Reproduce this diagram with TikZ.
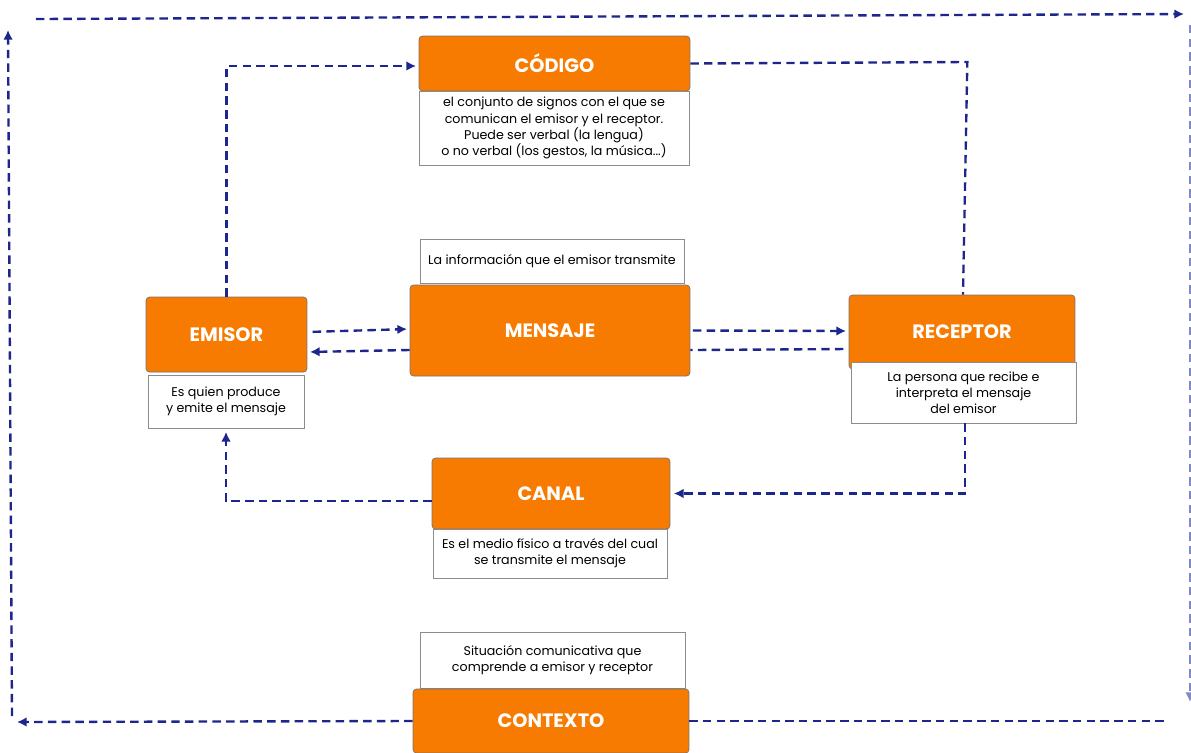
\documentclass[tikz,border=0pt]{standalone}
\usepackage{fontspec}
\setmainfont{Poppins}
\usetikzlibrary{arrows.meta, calc}

\definecolor{naranja}{RGB}{247,123,0}
\definecolor{marino}{RGB}{28,38,140}

\tikzset{
  caja/.style={draw=black!55, fill=naranja, rounded corners=2pt, text=white,
    font=\fontsize{11}{13}\selectfont\bfseries, inner sep=0pt},
  nota/.style={draw=black!45, fill=white, align=center, inner sep=0pt,
    font=\fontsize{7.2}{9.2}\selectfont},
  flecha/.style={marino, line width=1.35pt, dash pattern=on 4.8pt off 3pt, ->},
  linea/.style={marino, line width=1.35pt, dash pattern=on 4.8pt off 3pt}
}

\begin{document}
\begin{tikzpicture}[>={Latex[length=5.5pt,width=5.5pt]}, x=0.02cm, y=-0.02cm]

\useasboundingbox (0,0) rectangle (1191,752);

% cajas
\node[caja, minimum width=5.42cm, minimum height=1.10cm] (codigo) at (554.5,63.5) {CÓDIGO};
\node[nota, minimum width=5.40cm, minimum height=1.48cm] (notaCodigo) at (554,128)
  {el conjunto de signos con el que se\\ comunican el emisor y el receptor.\\ Puede ser verbal (la lengua)\\ o no verbal (los gestos, la música...)};

\node[nota, minimum width=5.28cm, minimum height=0.88cm] (notaMensaje) at (552,261)
  {La información que el emisor transmite};
\node[caja, minimum width=5.60cm, minimum height=1.82cm] (mensaje) at (550,330.5) {MENSAJE};

\node[caja, minimum width=3.22cm, minimum height=1.50cm] (emisor) at (226.5,334.5) {EMISOR};
\node[nota, minimum width=3.12cm, minimum height=1.06cm] (notaEmisor) at (226,401.5)
  {Es quien produce\\ y emite el mensaje};

\node[caja, minimum width=4.52cm, minimum height=1.48cm] (receptor) at (962,332) {RECEPTOR};
\node[nota, minimum width=4.50cm, minimum height=1.22cm] (notaReceptor) at (963.5,392.5)
  {La persona que recibe e\\ interpreta el mensaje\\ del emisor};

\node[caja, minimum width=4.76cm, minimum height=1.42cm] (canal) at (551,493.5) {CANAL};
\node[nota, minimum width=4.68cm, minimum height=0.98cm] (notaCanal) at (550,553.5)
  {Es el medio físico a través del cual\\ se transmite el mensaje};

\node[nota, minimum width=5.30cm, minimum height=1.12cm] (notaContexto) at (552.5,660)
  {Situación comunicativa que\\ comprende a emisor y receptor};
\node[caja, minimum width=5.52cm, minimum height=1.28cm] (contexto) at (551,721) {CONTEXTO};

% esquinas del marco
\coordinate (esqA) at (17,722);
\coordinate (esqB) at (12,716);
\coordinate (esqC) at (8,30);
\coordinate (esqD) at (36,19);
\coordinate (esqE) at (1184,14);
\coordinate (esqF) at (1190,25);
\coordinate (esqG) at (1190,702);
\coordinate (esqH) at (1166,721);

% conexiones
\draw[flecha, shorten >=1.5pt] (emisor.north) |- ([yshift=-0.05cm]codigo.west);
\draw[linea] (codigo.east) -- ++(277,-1.5) -- ($(receptor.north)+(1,0)$);
\draw[flecha, shorten <=3pt, shorten >=1.5pt] ($(emisor.east)+(0,-2.5)$) -- ($(mensaje.west)+(0,-1.5)$);
\draw[flecha, shorten >=1.5pt] ($(mensaje.west)+(0,19.5)$) -- ($(emisor.east)+(0,17.5)$);
\draw[flecha, shorten <=1.5pt, shorten >=1.5pt] (mensaje.east) -- ($(receptor.west)+(0,-1)$);
\draw[linea, shorten <=3pt] ($(receptor.west)+(0,17)$) -- ($(mensaje.east)+(0,19.5)$);
\draw[flecha, shorten >=2pt] ($(notaReceptor.south)+(1.5,0)$) |- (canal.east);
\draw[flecha, shorten >=2pt] ($(canal.west)+(0,7.5)$) -| (notaEmisor.south);

% marco exterior
\draw[flecha] (contexto.west) -- (esqA);
\draw[flecha] (esqB) -- (esqC);
\draw[flecha] (esqD) -- (esqE);
\draw[flecha, marino!55] (esqF) -- (esqG);
\draw[linea] (contexto.east) -- (esqH);

\end{tikzpicture}
\end{document}
